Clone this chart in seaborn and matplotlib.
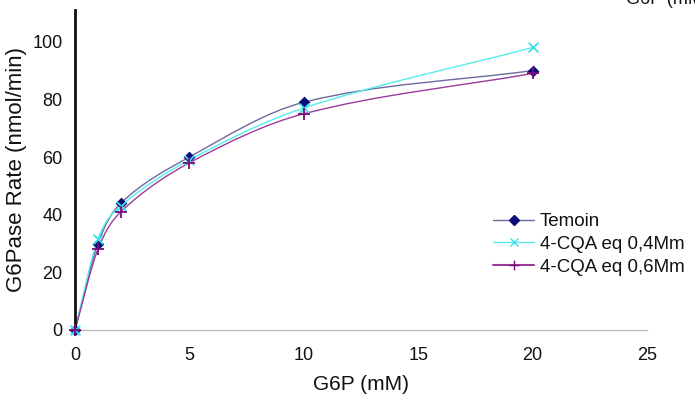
import matplotlib.pyplot as plt
import numpy as np
import pandas as pd
import seaborn as sns
from matplotlib.lines import Line2D
from matplotlib.path import Path
from matplotlib.patches import PathPatch

# concentrations of G6P (mM)
G6P = [0, 1, 2, 5, 10, 20]
TEMOIN = [0, 30, 44, 60, 79, 90]
CQA_04 = [0, 31.5, 43, 59, 77, 98]
CQA_06 = [0, 28, 41, 58, 75, 89]
SERIES = ["Temoin", "4-CQA eq 0,4Mm", "4-CQA eq 0,6Mm"]

STYLES = {
    "Temoin": dict(line="#6b6b9e", marker="D", mcolor="#0a0a78", ms=6),
    "4-CQA eq 0,4Mm": dict(line="#55ecec", marker="x", mcolor="#3de0e8", ms=7),
    "4-CQA eq 0,6Mm": dict(line="#9a3c9a", marker="+", mcolor="#7a0a7a", ms=8),
}


def smooth_path(xs, ys):
    # cubic bezier through the points, tangents from neighbours (smoothed line look)
    x = np.asarray(xs, dtype=float)
    y = np.asarray(ys, dtype=float)
    n = len(x)
    m = np.empty(n)
    m[0] = (y[1] - y[0]) / (x[1] - x[0])
    m[-1] = (y[-1] - y[-2]) / (x[-1] - x[-2])
    for i in range(1, n - 1):
        m[i] = (y[i + 1] - y[i - 1]) / (x[i + 1] - x[i - 1])
    verts = [(x[0], y[0])]
    codes = [Path.MOVETO]
    for i in range(n - 1):
        h = (x[i + 1] - x[i]) / 3.0
        verts += [
            (x[i] + h, y[i] + m[i] * h),
            (x[i + 1] - h, y[i + 1] - m[i + 1] * h),
            (x[i + 1], y[i + 1]),
        ]
        codes += [Path.CURVE4] * 3
    return Path(verts, codes)


df = pd.DataFrame(
    {
        "g6p": G6P * 3,
        "rate": TEMOIN + CQA_04 + CQA_06,
        "serie": [s for s in SERIES for _ in G6P],
    }
)

sns.set_theme(style="white")
plt.rcParams["font.family"] = ["Liberation Sans", "DejaVu Sans"]

fig = plt.figure(figsize=(6.95, 4.03), dpi=100)
ax = fig.add_axes([75 / 695, 73 / 403, 572 / 695, 320 / 403])

for name in SERIES:
    sub = df[df["serie"] == name]
    st = STYLES[name]
    ax.add_patch(
        PathPatch(
            smooth_path(sub["g6p"], sub["rate"]),
            fill=False,
            edgecolor=st["line"],
            linewidth=1.0,
            zorder=2,
        )
    )
    sns.scatterplot(
        data=sub,
        x="g6p",
        y="rate",
        marker=st["marker"],
        color=st["mcolor"],
        s=st["ms"] ** 2,
        linewidth=1.3 if st["marker"] != "D" else 0,
        edgecolor=st["mcolor"] if st["marker"] == "D" else None,
        zorder=3,
        clip_on=False,
        legend=False,
        ax=ax,
    )

ax.set_xlim(0, 25)
ax.set_ylim(0, 111)
ax.set_xticks([0, 5, 10, 15, 20, 25])
ax.set_yticks([0, 20, 40, 60, 80, 100])
ax.tick_params(axis="both", labelsize=13, colors="#111111")
ax.tick_params(axis="x", length=3, width=1, direction="inout", color="#999999", pad=11)
ax.tick_params(axis="y", length=0, pad=9)
ax.set_xlabel("G6P (mM)", fontsize=15, color="#111111", labelpad=8)
ax.set_ylabel("G6Pase Rate (nmol/min)", fontsize=16, color="#111111", labelpad=4)

for side in ["top", "right"]:
    ax.spines[side].set_visible(False)
ax.spines["left"].set_color("#111111")
ax.spines["left"].set_linewidth(2)
ax.spines["bottom"].set_color("#bbbbbb")
ax.spines["bottom"].set_linewidth(1)

handles = []
for name in SERIES:
    st = STYLES[name]
    handles.append(
        Line2D(
            [0], [0],
            color=st["line"],
            linewidth=1.5 if name == "4-CQA eq 0,6Mm" else 1.0,
            marker=st["marker"],
            markersize=st["ms"] * 0.9,
            markerfacecolor=st["mcolor"],
            markeredgecolor=st["mcolor"],
            label=name,
        )
    )
leg = fig.legend(
    handles=handles,
    loc="upper left",
    bbox_to_anchor=(493 / 695, 1 - 213 / 403),
    frameon=False,
    fontsize=13.5,
    handlelength=2.2,
    handletextpad=0.3,
    labelspacing=0.3,
    borderaxespad=0,
    borderpad=0,
)
for t in leg.get_texts():
    t.set_color("#111111")

fig.text(626 / 695, 1.0, "G6P (mM)", fontsize=13, color="#111111", va="center", ha="left")

fig.savefig("out.png", dpi=100)
